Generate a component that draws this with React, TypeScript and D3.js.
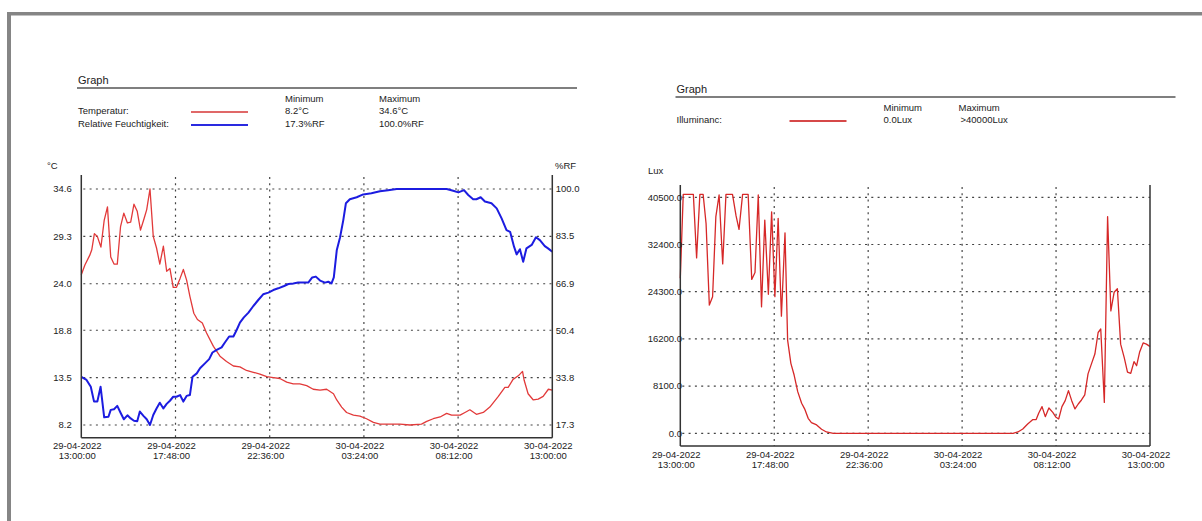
import React from "react";
import * as d3 from "d3";

// ---------- data (minutes after 29-04-2022 13:00:00) ----------
const tempTimes = [0, 11, 26, 32, 40, 49, 60, 70, 80, 90, 100, 110, 120, 130, 141, 151, 161, 171, 181, 192, 200, 210, 220, 230, 240, 251, 261, 271, 281, 291, 302, 312, 322, 332, 344, 355, 370, 383, 404, 424, 444, 465, 485, 505, 526, 546, 567, 587, 607, 628, 648, 668, 689, 709, 730, 750, 771, 781, 796, 811, 832, 852, 872, 893, 913, 944, 974, 1005, 1040, 1056, 1076, 1097, 1117, 1132, 1158, 1173, 1188, 1208, 1229, 1249, 1275, 1295, 1305, 1320, 1336, 1349, 1354, 1366, 1382, 1397, 1412, 1428, 1440];
const tempValues = [25.0, 26.1, 27.2, 27.8, 29.6, 29.3, 28.1, 31.1, 32.6, 27.0, 26.2, 26.2, 30.4, 31.9, 30.8, 30.9, 32.9, 32.1, 30.0, 31.3, 32.3, 34.6, 29.3, 28.0, 26.2, 28.2, 25.4, 25.7, 23.6, 23.6, 24.6, 25.6, 24.4, 22.6, 20.7, 20.0, 19.6, 18.5, 17.0, 15.9, 15.3, 14.8, 14.7, 14.3, 14.1, 13.9, 13.6, 13.5, 13.4, 13.0, 12.8, 12.8, 12.6, 12.2, 12.1, 12.2, 11.7, 11.0, 10.2, 9.6, 9.3, 9.2, 8.9, 8.5, 8.3, 8.3, 8.3, 8.2, 8.3, 8.6, 8.9, 9.1, 9.5, 9.3, 9.3, 9.6, 9.9, 9.4, 9.6, 10.2, 11.4, 12.4, 12.4, 13.3, 13.7, 14.2, 13.2, 11.7, 11.0, 11.1, 11.4, 12.2, 12.1];

const humTimes = [0, 16, 29, 39, 49, 59, 70, 83, 90, 100, 110, 120, 130, 141, 151, 161, 171, 179, 190, 200, 210, 220, 230, 240, 251, 261, 271, 281, 291, 302, 312, 322, 332, 340, 353, 363, 378, 391, 401, 414, 429, 439, 452, 465, 475, 485, 497, 511, 526, 541, 556, 572, 587, 602, 620, 633, 648, 663, 679, 694, 706, 717, 730, 745, 755, 765, 772, 781, 791, 801, 809, 821, 842, 862, 887, 913, 938, 964, 1015, 1066, 1117, 1137, 1153, 1170, 1183, 1198, 1208, 1221, 1234, 1254, 1270, 1285, 1300, 1311, 1323, 1331, 1341, 1351, 1361, 1377, 1390, 1402, 1417, 1427, 1440];
const humValues = [34.2, 33.1, 30.7, 25.5, 25.5, 30.7, 20.0, 20.2, 22.6, 22.8, 24.0, 21.6, 19.3, 20.7, 19.6, 18.8, 18.6, 22.0, 20.5, 19.3, 17.3, 20.8, 23.1, 25.1, 23.1, 24.7, 25.8, 27.2, 27.2, 27.8, 25.5, 27.5, 27.8, 34.2, 35.4, 37.2, 38.9, 40.4, 42.7, 43.6, 44.5, 46.2, 48.3, 48.3, 50.6, 53.2, 55.0, 56.7, 59.0, 61.1, 63.1, 63.7, 64.6, 65.2, 66.0, 66.7, 66.9, 67.2, 67.2, 67.2, 69.0, 69.3, 67.9, 67.2, 67.5, 66.9, 69.0, 78.5, 83.0, 89.1, 95.0, 96.4, 97.1, 98.1, 98.5, 99.2, 99.6, 100.0, 100.0, 100.0, 100.0, 99.4, 98.8, 99.6, 97.9, 96.4, 96.4, 97.1, 95.6, 95.0, 93.2, 89.7, 85.6, 85.0, 79.8, 77.1, 78.9, 74.5, 79.2, 80.4, 83.1, 82.1, 80.0, 79.2, 78.0];

const luxTimes = [0, 9, 40, 50, 60, 70, 79, 89, 99, 109, 119, 130, 140, 160, 171, 180, 191, 208, 219, 229, 239, 249, 259, 270, 280, 290, 300, 310, 321, 329, 339, 349, 360, 372, 382, 392, 402, 418, 433, 448, 469, 1020, 1035, 1050, 1065, 1081, 1091, 1099, 1109, 1119, 1130, 1142, 1152, 1160, 1170, 1180, 1190, 1200, 1210, 1220, 1230, 1240, 1250, 1261, 1271, 1281, 1289, 1300, 1310, 1320, 1330, 1340, 1350, 1361, 1371, 1381, 1391, 1399, 1408, 1419, 1429, 1437, 1440];
const luxValues = [26600, 41000, 41000, 30100, 41000, 41000, 36000, 22000, 23450, 37200, 40900, 29060, 41000, 41000, 37300, 35000, 41000, 41000, 26400, 27600, 40900, 21700, 36600, 23850, 38000, 23450, 36900, 20100, 34400, 16000, 12000, 10000, 7150, 5150, 4100, 2570, 1830, 1430, 690, 230, 0, 0, 230, 740, 1600, 2350, 2350, 3490, 4580, 2860, 4350, 3600, 2750, 2460, 4580, 5600, 7320, 5600, 4180, 5030, 5720, 6580, 10200, 12000, 13600, 17300, 17900, 5300, 37200, 21000, 24200, 24800, 15300, 13000, 10500, 10300, 12300, 11600, 13900, 15500, 15300, 15000, 14900];

const tempTicks = [34.6, 29.3, 24.0, 18.8, 13.5, 8.2];
const humTicks = [100.0, 83.5, 66.9, 50.4, 33.8, 17.3];
const luxTicks = [40500, 32400, 24300, 16200, 8100, 0];
const xTickCount = 6;
const xTickStepMinutes = 288;

const legendHeaders = ["Minimum", "Maximum"];
const leftLegendRows = [
  { label: "Temperatur:", min: "8.2°C", max: "34.6°C" },
  { label: "Relative Feuchtigkeit:", min: "17.3%RF", max: "100.0%RF" },
];
const rightLegendRows = [{ label: "Illuminanc:", min: "0.0Lux", max: ">40000Lux" }];

// ---------- style ----------
const FONT = "'Liberation Sans', Arial, Helvetica, sans-serif";
const TEMP_COLOR = "#e23a3a";
const HUM_COLOR = "#1c1ce0";
const LUX_COLOR = "#d62828";
const GRID = "#444";
const AXIS = "#333";

const start = new Date(2022, 3, 29, 13, 0, 0);
const fmtDate = d3.timeFormat("%d-%m-%Y");
const fmtTime = d3.timeFormat("%H:%M:%S");
const atMin = (m: number) => d3.timeMinute.offset(start, m);
const xTicks = d3.range(xTickCount).map((k) => atMin(k * xTickStepMinutes));

type Frame = { x0: number; x1: number; top: number; bottom: number; yHi: number; yLo: number };
const LF: Frame = { x0: 81.3, x1: 552.3, top: 175, bottom: 437.7, yHi: 189, yLo: 425 };
const RF: Frame = { x0: 680.3, x1: 1150, top: 185, bottom: 446, yHi: 197.3, yLo: 433.3 };

function Grid({ f, x, ys }: { f: Frame; x: d3.ScaleTime<number, number>; ys: number[] }) {
  return (
    <g stroke={GRID} strokeWidth={1.2} strokeDasharray="2,4.3" fill="none">
      {ys.map((y, i) => (
        <line key={"h" + i} x1={f.x0 + 2} x2={f.x1} y1={y} y2={y} />
      ))}
      {xTicks.slice(1, -1).map((d, i) => (
        <line key={"v" + i} x1={x(d)} x2={x(d)} y1={f.top + 2} y2={f.bottom} />
      ))}
    </g>
  );
}

function Frame({ f }: { f: Frame }) {
  return (
    <g stroke={AXIS} strokeWidth={1.5} fill="none">
      <line x1={f.x0} x2={f.x0} y1={f.top} y2={f.bottom} />
      <line x1={f.x1} x2={f.x1} y1={f.top} y2={f.bottom} />
      <line x1={f.x0} x2={f.x1} y1={f.bottom} y2={f.bottom} />
    </g>
  );
}

function XLabels({ x, y }: { x: d3.ScaleTime<number, number>; y: number }) {
  return (
    <g fontSize={9.5} textAnchor="middle" fill="#222">
      {xTicks.map((d, i) => (
        <g key={i}>
          <text x={x(d) - 4} y={y} dy="0.35em">{fmtDate(d)}</text>
          <text x={x(d) - 4} y={y + 10} dy="0.35em">{fmtTime(d)}</text>
        </g>
      ))}
    </g>
  );
}

function Legend({ x, y, rows, color, widths }: any) {
  return (
    <g fontSize={9.5} fill="#222">
      <text x={x} y={y} fontSize={11} dy="0.35em">Graph</text>
      <line x1={x - 1} x2={x + 499} y1={y + 8} y2={y + 8} stroke="#555" strokeWidth={1.6} />
      <text x={x + widths[1]} y={y + 19} dy="0.35em">{legendHeaders[0]}</text>
      <text x={x + widths[2]} y={y + 19} dy="0.35em">{legendHeaders[1]}</text>
      {rows.map((r: any, i: number) => (
        <g key={i}>
          <text x={x} y={y + 31 + i * 13} dy="0.35em">{r.label}</text>
          <line x1={x + widths[0]} x2={x + widths[0] + 57} y1={y + 32 + i * 13} y2={y + 32 + i * 13}
            stroke={color[i]} strokeWidth={i === 1 ? 2.2 : 1.8} />
          <text x={x + widths[1]} y={y + 31 + i * 13} dy="0.35em">{r.min}</text>
          <text x={x + widths[2] + (r.max.startsWith(">") ? 2 : 0)} y={y + 31 + i * 13} dy="0.35em">{r.max}</text>
        </g>
      ))}
    </g>
  );
}

export default function App() {
  const xL = d3.scaleTime().domain([start, atMin(1440)]).range([LF.x0, LF.x1]);
  const xR = d3.scaleTime().domain([start, atMin(1440)]).range([RF.x0, RF.x1]);
  const yT = d3.scaleLinear().domain([8.2, 34.6]).range([LF.yLo, LF.yHi]);
  const yH = d3.scaleLinear().domain([17.3, 100]).range([LF.yLo, LF.yHi]);
  const yL = d3.scaleLinear().domain([0, 40500]).range([RF.yLo, RF.yHi]);

  const mk = (times: number[], vals: number[], x: any, y: any) =>
    d3.line<number>().x((i) => x(atMin(times[i]))).y((i) => y(vals[i]))(d3.range(times.length)) || "";

  return (
    <svg width={1202} height={521} style={{ position: "absolute", left: 0, top: 0, background: "#fff" }}
      fontFamily={FONT}>
      {/* page frame */}
      <rect x={7} y={12} width={1202 - 7} height={3.5} fill="#858585" />
      <rect x={7} y={12} width={4} height={521 - 12} fill="#858585" />

      {/* LEFT CHART */}
      <Legend x={78} y={80} rows={leftLegendRows} color={["#e06868", "#2a2ae0"]} widths={[113, 207, 301]} />
      <Grid f={LF} x={xL} ys={tempTicks.map(yT)} />
      <path d={mk(tempTimes, tempValues, xL, yT)} fill="none" stroke={TEMP_COLOR} strokeWidth={1.3} strokeLinejoin="round" />
      <path d={mk(humTimes, humValues, xL, yH)} fill="none" stroke={HUM_COLOR} strokeWidth={2} strokeLinejoin="round" />
      <Frame f={LF} />
      <g fontSize={9.5} fill="#222">
        {tempTicks.map((t, i) => (
          <text key={i} x={71.7} y={yT(t)} dy="0.35em" textAnchor="end">{t.toFixed(1)}</text>
        ))}
        {humTicks.map((t, i) => (
          <text key={i} x={555.7} y={yH(t)} dy="0.35em">{t.toFixed(1)}</text>
        ))}
        <text x={47} y={166} dy="0.35em">°C</text>
        <text x={555} y={166} dy="0.35em">%RF</text>
      </g>
      <XLabels x={xL} y={446} />

      {/* RIGHT CHART */}
      <Legend x={676.5} y={89} rows={rightLegendRows} color={["#d64848"]} widths={[113, 207, 282]} />
      <Grid f={RF} x={xR} ys={luxTicks.map(yL)} />
      <path d={mk(luxTimes, luxValues, xR, yL)} fill="none" stroke={LUX_COLOR} strokeWidth={1.3} strokeLinejoin="round" />
      <Frame f={RF} />
      <g fontSize={9.5} fill="#222">
        {luxTicks.map((t, i) => (
          <text key={i} x={682} y={yL(t)} dy="0.35em" textAnchor="end">{t.toFixed(1)}</text>
        ))}
        <text x={648} y={171} dy="0.35em">Lux</text>
      </g>
      <XLabels x={xR} y={455} />
    </svg>
  );
}
